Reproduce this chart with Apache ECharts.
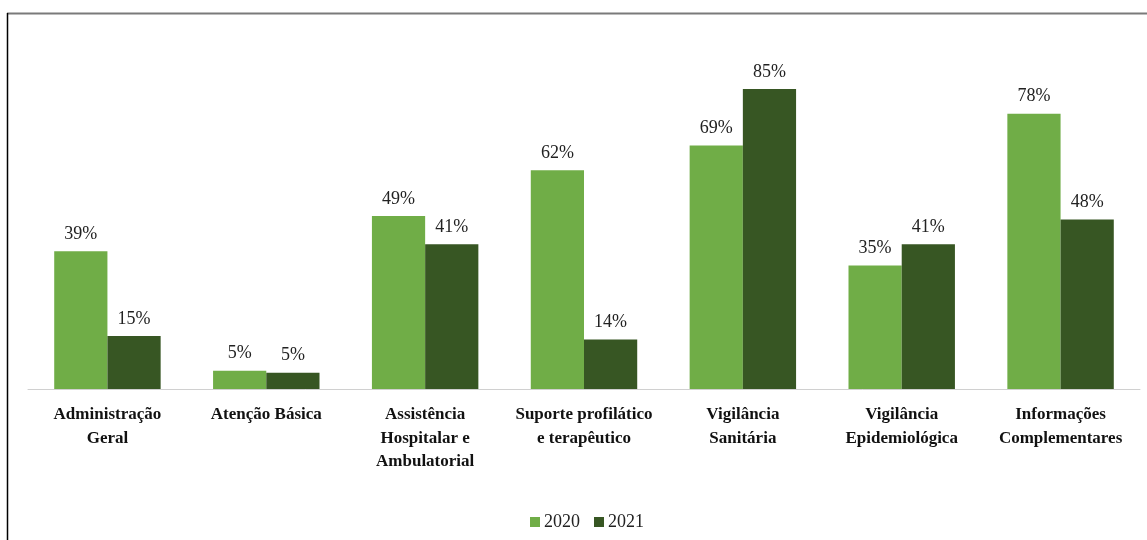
<!DOCTYPE html>
<html><head><meta charset="utf-8">
<script src="https://cdn.jsdelivr.net/npm/echarts@6/dist/echarts.min.js"></script>
<style>html,body{margin:0;padding:0;background:#fff}#c{width:1147px;height:540px}</style>
</head><body><div id="c"></div>
<script>
const categories = ["Administração\nGeral","Atenção Básica","Assistência\nHospitalar e\nAmbulatorial","Suporte profilático\ne terapêutico","Vigilância\nSanitária","Vigilância\nEpidemiológica","Informações\nComplementares"];
const seriesNames = ["2020","2021"];
const values2020 = [39, 5.2, 49, 62, 69, 35, 78];
const values2021 = [15, 4.6, 41, 14, 85, 41, 48];
const colors = ["#70AD47","#375623"];

const chart = echarts.init(document.getElementById('c'));
const font = "'Liberation Serif', 'Times New Roman', serif";
const mk = (name, data, color) => ({
  name, type: 'bar', data, barGap: '0%', barCategoryGap: '33%',
  itemStyle: {color},
  label: {show: true, position: 'top', distance: 8, color: '#222', fontFamily: font, fontSize: 18,
    formatter: p => Math.round(p.value) + '%'}
});
chart.setOption({
  animation: false,
  textStyle: {fontFamily: font},
  grid: {left: 28, right: 7, top: 36, bottom: 151},
  xAxis: {type: 'category', data: categories,
    axisLine: {lineStyle: {color: '#d0d0d0', width: 1}}, axisTick: {show: false},
    axisLabel: {interval: 0, margin: 14, color: '#111', fontFamily: font, fontWeight: 'bold', fontSize: 17, lineHeight: 23.5}},
  yAxis: {type: 'value', min: 0, max: 100, show: false},
  legend: {bottom: 4, left: 525, itemWidth: 10, itemHeight: 10, itemGap: 14,
    textStyle: {fontFamily: font, fontSize: 18, color: '#222', padding: [0, 0, 0, -1]}, data: seriesNames, icon: 'rect'},
  graphic: [
    {type: 'line', shape: {x1: 7, y1: 13.5, x2: 1147, y2: 13.5}, style: {stroke: '#7a7a7a', lineWidth: 2}},
    {type: 'line', shape: {x1: 7.5, y1: 13, x2: 7.5, y2: 540}, style: {stroke: '#000', lineWidth: 1.5}}
  ],
  series: [mk(seriesNames[0], values2020, colors[0]), mk(seriesNames[1], values2021, colors[1])]
});
</script></body></html>
